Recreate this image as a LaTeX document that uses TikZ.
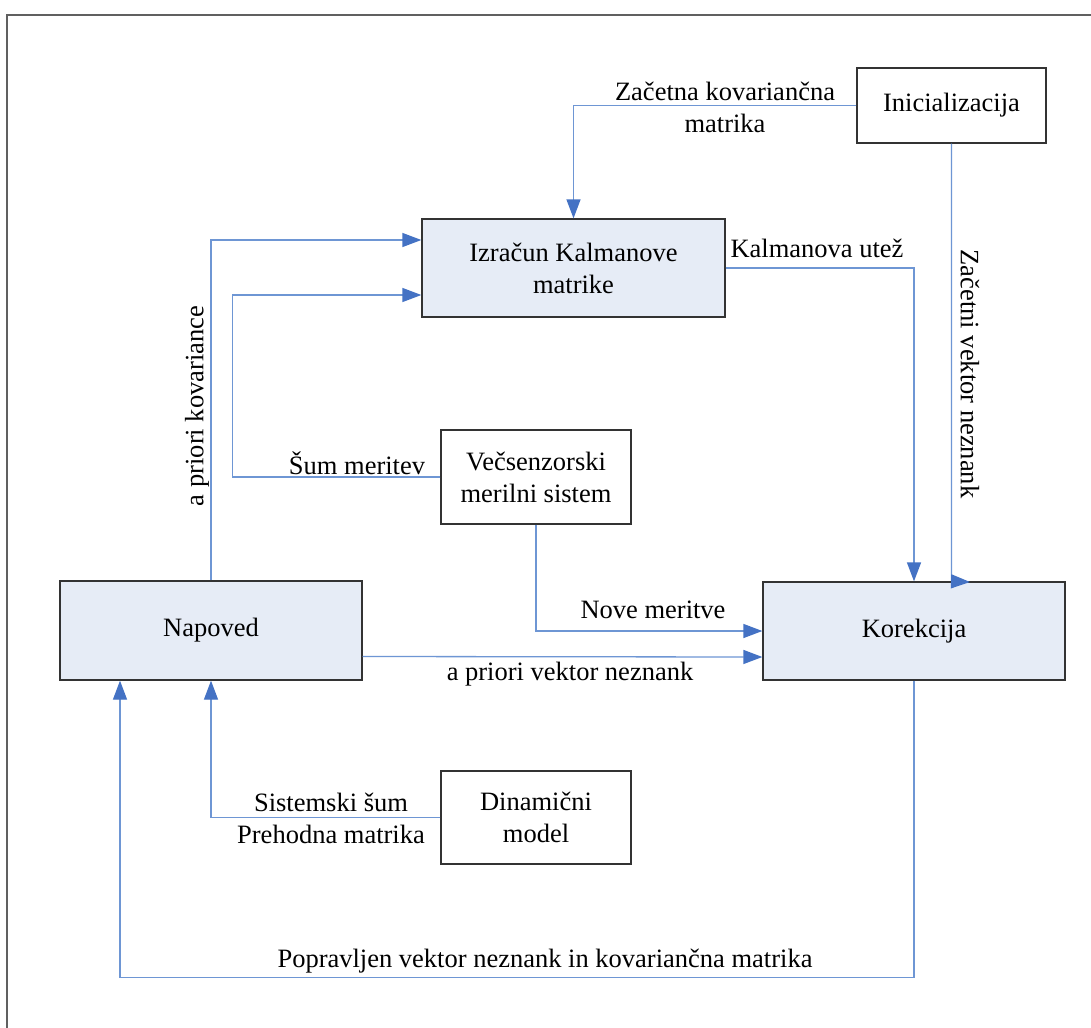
\documentclass[tikz,border=0pt]{standalone}
\usepackage{fontspec}
\setmainfont{Liberation Serif}
\newfontfamily\tnr{Liberation Serif}
\usetikzlibrary{arrows.meta,calc}
\definecolor{boxfill}{RGB}{230,236,246}
\definecolor{lineblue}{RGB}{110,150,212}
\definecolor{tipblue}{RGB}{68,114,196}
\definecolor{framegray}{RGB}{96,96,96}
\begin{document}
\begin{tikzpicture}[x=1pt,y=-1pt,
  every node/.style={font=\tnr\fontsize{26.5}{32}\selectfont},
  bluebox/.style={draw=black!80,line width=1.3pt,fill=boxfill,inner sep=0pt,align=center},
  whitebox/.style={draw=black!80,line width=1.3pt,fill=white,inner sep=0pt,align=center},
  conn/.style={draw=lineblue,line width=1.3pt,-{Triangle[length=19pt,width=14pt,color=tipblue]}},
  lbl/.style={inner sep=0pt,align=center}]
\useasboundingbox (0,0) rectangle (1091,1027);
\fill[white] (0,0) rectangle (1091,1027);
\draw[framegray,line width=2pt] (7,1040) -- (7,15) -- (1100,15);

\node[whitebox,minimum width=189pt,minimum height=75pt] (ini) at (951.5,105.5) {Inicializacija};
\node[bluebox,minimum width=303pt,minimum height=98pt] (izr) at (573.5,268) {Izračun Kalmanove\\matrike};
\node[whitebox,minimum width=190pt,minimum height=94pt] (vec) at (536,477) {Večsenzorski\\merilni sistem};
\node[bluebox,minimum width=302pt,minimum height=99pt] (nap) at (211,630.5) {Napoved};
\node[bluebox,minimum width=302pt,minimum height=98pt] (kor) at (914,631) {Korekcija};
\node[whitebox,minimum width=190pt,minimum height=93pt] (dyn) at (536,817.5) {Dinamični\\model};

\coordinate (zvend) at (970,582);

\draw[conn] (ini.west) -| (izr.north);
\draw[conn] (ini.south) -- (ini.south |- kor.north) -- (zvend);
\draw[conn] (izr.east) -| (kor.north);
\draw[conn] (nap.north) |- ([yshift=28pt]izr.west);
\draw[conn] (vec.west) -- ++(-208,0) |- ([yshift=-27pt]izr.west);
\draw[conn] (vec.south) |- (kor.west);
\draw[conn] ([yshift=-26pt]nap.east) -- ([yshift=-26pt]kor.west);
\draw[conn] (dyn.west) -| (nap.south);
\draw[conn] (kor.south) -- ++(0,297) -| ([xshift=-91pt]nap.south);

\node[lbl] (l1) at (725,107) {Začetna kovariančna\\matrika};
\node[lbl] (l2) at (817,248) {Kalmanova utež};
\node[lbl,rotate=90] (l3) at (197,406) {a priori kovariance};
\node[lbl,rotate=-90] (l4) at (970,374) {Začetni vektor neznank};
\node[lbl] (l5) at (357,463) {Šum meritev};
\node[lbl] (l6) at (653,610) {Nove meritve};
\node[lbl] (l7) at (570,674) {a priori vektor neznank};
\node[lbl] (l8) at (331,818) {Sistemski šum\\Prehodna matrika};
\node[lbl] (l9) at (545,961) {Popravljen vektor neznank in kovariančna matrika};
\end{tikzpicture}
\end{document}
